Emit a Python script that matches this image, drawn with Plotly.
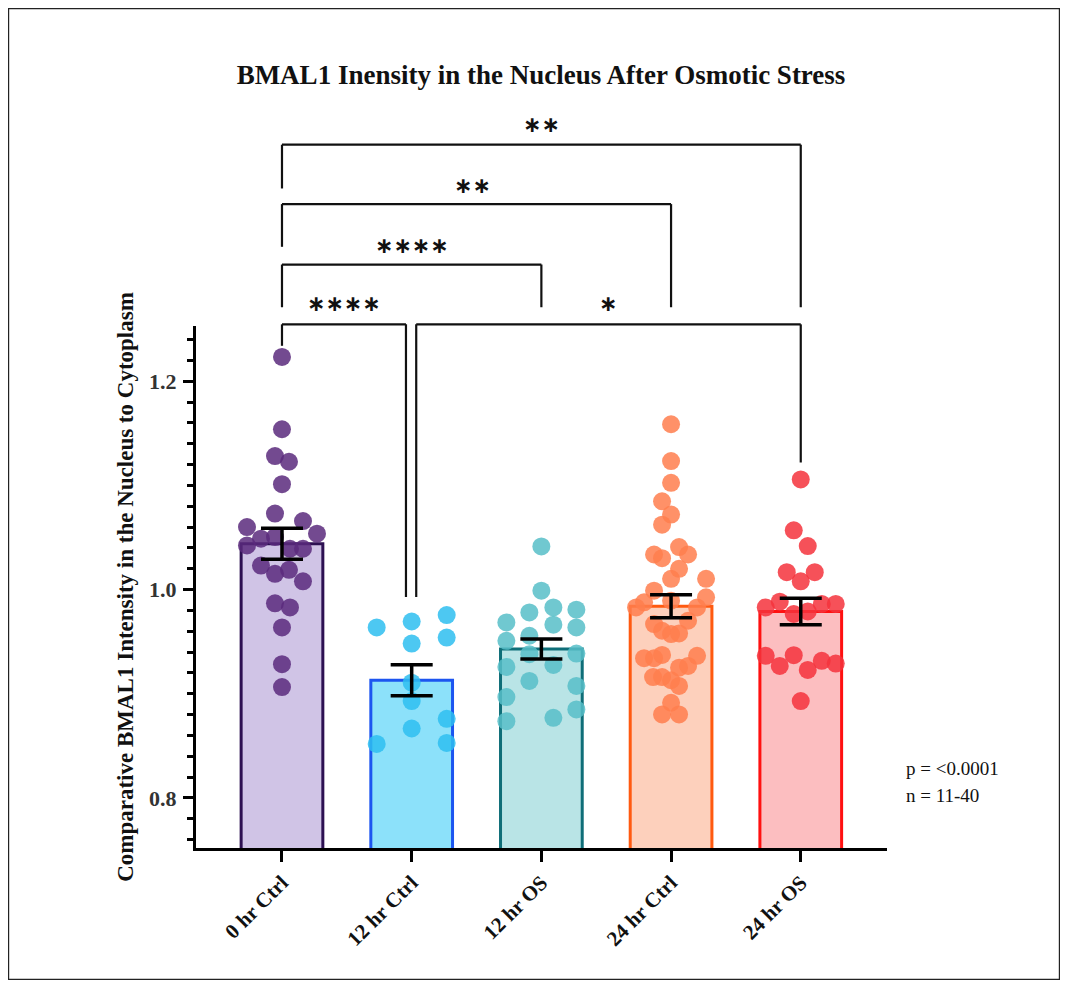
import plotly.graph_objects as go

# ---------------- data ----------------
categories = ["0 hr Ctrl", "12 hr Ctrl", "12 hr OS", "24 hr Ctrl", "24 hr OS"]
means = [1.044, 0.913, 0.943, 0.984, 0.979]
sems = [0.0148, 0.0148, 0.0096, 0.011, 0.0128]

vals_0h_ctrl = [1.2233, 1.1539, 1.1282, 1.1227, 1.1012, 1.0730, 1.0658, 1.0600, 1.0537,
                1.0489, 1.0424, 1.0504, 1.0392, 1.0392, 1.0231, 1.0151, 1.0190, 1.0080,
                0.9868, 0.9829, 0.9637, 0.9284, 0.9065]
vals_12h_ctrl = [0.9637, 0.9694, 0.9756, 0.9482, 0.9540, 0.9107, 0.8930, 0.8760, 0.8667,
                 0.8519, 0.8528]
vals_12h_os = [1.0414, 0.9990, 0.9781, 0.9829, 0.9807, 0.9685, 0.9663, 0.9637, 0.9508,
               0.9557, 0.9380, 0.9386, 0.9277, 0.9258, 0.9123, 0.9075, 0.8969, 0.8850,
               0.8769, 0.8737]
vals_24h_ctrl = [1.1587, 1.1234, 1.1025, 1.0848, 1.0720, 1.0623, 1.0408, 1.0337, 1.0337,
                 1.0302, 1.0199, 1.0103, 1.0103, 0.9990, 0.9926, 0.9878, 0.9829, 0.9829,
                 0.9894, 0.9701, 0.9669, 0.9605, 0.9573, 0.9579, 0.9342, 0.9342, 0.9373,
                 0.9364, 0.9251, 0.9267, 0.9161, 0.9161, 0.9130, 0.9075, 0.8914, 0.8802,
                 0.8802]
vals_24h_os = [1.1057, 1.0569, 1.0418, 1.0167, 1.0167, 1.0080, 0.9829, 0.9884, 0.9862,
               0.9862, 0.9766, 0.9791, 0.9364, 0.9371, 0.9267, 0.9229, 0.9316, 0.9290,
               0.8930]

# horizontal scatter of the dots (pixels from the group centre)
spread_0h_ctrl = [0, 0, -7, 7, 0, -7, 21, -35, 35, -21, -35, -7, 8, 21, -21, -7, 7, 21,
                  -7, 8, 0, 0, 0]
spread_12h_ctrl = [-35, 0, 35, 0, 35, 0, 0, 35, 0, -35, 35]
spread_12h_os = [0, 0, -12, 12, 35, -35, 12, 35, -35, -12, -12, 35, 12, -35, -12, 35,
                 -35, 35, 12, -35]
spread_24h_ctrl = [0, 0, 0, -9, 0, -9, 8, 17, -17, -9, 8, 35, 0, -17, 35, -27, -35, 26,
                   0, 17, -17, -9, 0, 8, -27, -17, -9, 26, 8, 17, -18, -9, 0, 8, 0, -9, 8]
spread_24h_os = [0, -7, 7, -14, 14, 0, -35, -21, 35, 21, -7, 7, -35, -7, -21, 7, 21, 35, 0]

groups = [vals_0h_ctrl, vals_12h_ctrl, vals_12h_os, vals_24h_ctrl, vals_24h_os]
spreads = [spread_0h_ctrl, spread_12h_ctrl, spread_12h_os, spread_24h_ctrl, spread_24h_os]

bar_fill = ["#D0C4E6", "#8CE1FA", "#B9E4E6", "#FDD0BC", "#FCBEC0"]
bar_edge = ["#2D1052", "#1C55F0", "#0F6E78", "#FF5A10", "#FF1010"]
dot_color = ["#5B2A7C", "#2EBEF0", "#57BEC8", "#FF7E4E", "#F5323C"]

# significance comparisons: (left group, right group, label)
comparisons = [
    (0, 4, "∗∗"),
    (0, 3, "∗∗"),
    (0, 2, "∗∗∗∗"),
    (0, 1, "∗∗∗∗"),
    (1, 4, "∗"),
]

# ---------------- layout geometry (page pixels) ----------------
OFF = 8                      # the page places the figure 8 px from the window corner
W, H = 1052, 972
L, R, T, B = 196, 887, 326, 848
YMIN, YMAX = 0.752, 1.253
XMIN, XMAX = -0.663, 4.665
PX_PER_CAT = (R - L) / (XMAX - XMIN)


def px2x(px):
    return (px - L) / (R - L)


def py2y(py):
    return (B - py) / (B - T)


def v2paper(v):
    return (v - YMIN) / (YMAX - YMIN)


serif = "Liberation Serif"

fig = go.Figure()

# bars
fig.add_trace(go.Bar(
    x=list(range(len(categories))), y=means, width=0.63,
    marker=dict(color=bar_fill, line=dict(color=bar_edge, width=3)),
    showlegend=False, hoverinfo="skip",
))

# dots
for i, (vals, spr) in enumerate(zip(groups, spreads)):
    fig.add_trace(go.Scatter(
        x=[i + d / PX_PER_CAT for d in spr], y=vals, mode="markers",
        marker=dict(size=18, color=dot_color[i], opacity=0.85, line=dict(width=0)),
        showlegend=False,
    ))

# error bars on top
fig.add_trace(go.Scatter(
    x=list(range(len(categories))), y=means, mode="markers",
    marker=dict(size=1, color="rgba(0,0,0,0)"),
    error_y=dict(type="data", array=sems, visible=True, color="black", thickness=3.5, width=21),
    showlegend=False,
))

# ---------------- significance brackets ----------------
level = {(0, 4): 1.427, (0, 3): 1.370, (0, 2): 1.312, (0, 1): 1.2546, (1, 4): 1.2546}
left_end = {(0, 4): 1.385, (0, 3): 1.329, (0, 2): 1.271, (0, 1): 1.234, (1, 4): 0.993}
right_end = {(0, 4): 1.271, (0, 3): 1.271, (0, 2): 1.271, (0, 1): 0.993, (1, 4): 1.122}
left_shift = {(0, 1): 0.0, (1, 4): 0.035}
right_shift = {(0, 1): -0.044}
label_lift = {(0, 4): 20, (0, 3): 19, (0, 2): 19, (0, 1): 21, (1, 4): 21}
label_dx = {(0, 3): -4}

shapes = []
annotations = []
for a, b, lab in comparisons:
    key = (a, b)
    xa = a + left_shift.get(key, 0.0)
    xb = b + right_shift.get(key, 0.0)
    yl = v2paper(level[key])
    line = dict(color="#111111", width=2.2)
    shapes.append(dict(type="line", xref="x", yref="paper", x0=xa, x1=xb, y0=yl, y1=yl, line=line))
    shapes.append(dict(type="line", xref="x", yref="paper", x0=xa, x1=xa, y0=yl,
                       y1=v2paper(left_end[key]), line=line))
    shapes.append(dict(type="line", xref="x", yref="paper", x0=xb, x1=xb, y0=yl,
                       y1=v2paper(right_end[key]), line=line))
    annotations.append(dict(
        text=lab, xref="x", yref="paper", x=(xa + xb) / 2 + label_dx.get(key, 0) / PX_PER_CAT,
        y=yl + label_lift[key] / (B - T), showarrow=False, xanchor="center", yanchor="middle",
        font=dict(family="DejaVu Sans", size=22, color="#111111", weight="bold"),
    ))

# outer frame
shapes.append(dict(type="rect", xref="paper", yref="paper",
                   x0=px2x(OFF + 0.6), x1=px2x(OFF + W - 0.6),
                   y0=py2y(OFF + H - 0.6), y1=py2y(OFF + 0.6),
                   line=dict(color="#222222", width=1.2), fillcolor="rgba(0,0,0,0)", layer="below"))

# stats text
annotations.append(dict(text="p = <0.0001", xref="paper", yref="paper", x=px2x(904), y=py2y(768),
                        xanchor="left", yanchor="middle", showarrow=False,
                        font=dict(family=serif, size=19, color="#111111")))
annotations.append(dict(text="n = 11-40", xref="paper", yref="paper", x=px2x(904), y=py2y(795),
                        xanchor="left", yanchor="middle", showarrow=False,
                        font=dict(family=serif, size=19, color="#111111")))

fig.update_layout(
    width=W, height=H,
    margin=dict(l=L - OFF, r=OFF + W - R, t=T - OFF, b=OFF + H - B),
    paper_bgcolor="white", plot_bgcolor="white",
    title=dict(text="BMAL1 Inensity in the Nucleus After Osmotic Stress",
               x=px2x(541), xref="paper", xanchor="center",
               y=1 - (75 - OFF) / H, yref="container", yanchor="middle",
               font=dict(family=serif, size=27, color="#111111", weight="bold")),
    shapes=shapes, annotations=annotations,
)

fig.update_xaxes(
    range=[XMIN, XMAX], tickmode="array", tickvals=list(range(len(categories))),
    ticktext=categories, tickangle=-45,
    tickfont=dict(family=serif, size=21, color="#111111", weight="bold"),
    showline=True, linecolor="black", linewidth=3,
    ticks="outside", ticklen=11, tickwidth=3, tickcolor="black",
    showgrid=False, zeroline=False,
)
fig.update_yaxes(
    range=[YMIN, YMAX], tickmode="array", tickvals=[0.8, 1.0, 1.2], ticktext=["0.8", "1.0", "1.2"],
    tickfont=dict(family=serif, size=22, color="#333333", weight="bold"),
    ticklabelstandoff=2,
    showline=True, linecolor="black", linewidth=3,
    ticks="outside", ticklen=10, tickwidth=3, tickcolor="black",
    minor=dict(tickmode="linear", tick0=0.8, dtick=0.02, ticks="outside", ticklen=6,
               tickwidth=3, tickcolor="black", showgrid=False),
    showgrid=False, zeroline=False,
    title=dict(text="Comparative BMAL1 Intensity in the Nucleus to Cytoplasm", standoff=10,
               font=dict(family=serif, size=23, color="#111111", weight="bold")),
)

fig.write_html("out.html")
